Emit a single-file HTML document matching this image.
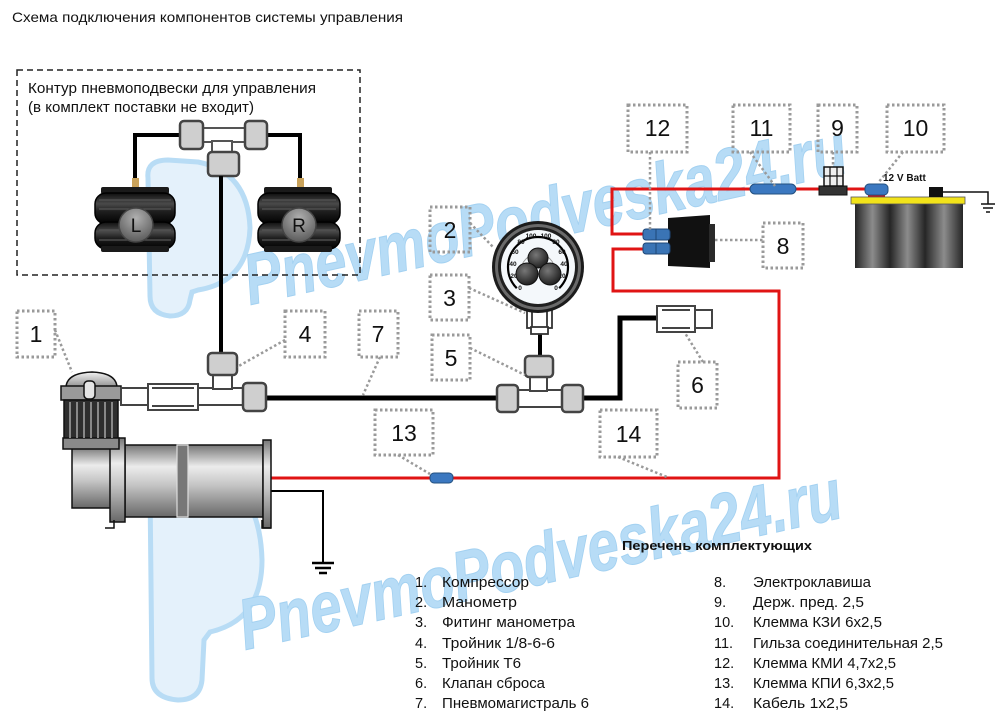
<!DOCTYPE html>
<html><head><meta charset="utf-8"><style>
html,body{margin:0;padding:0;background:#fff;}
svg{display:block;}
text{font-family:"Liberation Sans","Noto Sans CJK SC",sans-serif;}
</style></head><body>
<svg width="1000" height="712" viewBox="0 0 1000 712" xmlns="http://www.w3.org/2000/svg">
<defs>
<linearGradient id="tank" x1="0" y1="0" x2="0" y2="1">
<stop offset="0" stop-color="#767676"/><stop offset="0.3" stop-color="#ececec"/><stop offset="0.55" stop-color="#c6c6c6"/><stop offset="1" stop-color="#686868"/>
</linearGradient>
<linearGradient id="bag" x1="0" y1="0" x2="0" y2="1">
<stop offset="0" stop-color="#0e0e0e"/><stop offset="0.35" stop-color="#4a4a4a"/><stop offset="0.6" stop-color="#1e1e1e"/><stop offset="1" stop-color="#000"/>
</linearGradient>
<radialGradient id="lr" cx="0.5" cy="0.3" r="0.75"><stop offset="0" stop-color="#b0b0b0"/><stop offset="1" stop-color="#555"/></radialGradient>
<linearGradient id="cell" x1="0" y1="0" x2="1" y2="0"><stop offset="0" stop-color="#262626"/><stop offset="0.5" stop-color="#8c8c8c"/><stop offset="1" stop-color="#262626"/></linearGradient>
<linearGradient id="dome" x1="0" y1="0" x2="0" y2="1"><stop offset="0" stop-color="#f2f2f2"/><stop offset="1" stop-color="#8a8a8a"/></linearGradient>
<radialGradient id="knob" cx="0.4" cy="0.35" r="0.7"><stop offset="0" stop-color="#777"/><stop offset="1" stop-color="#1a1a1a"/></radialGradient>
</defs>

<!-- watermark logos -->
<g fill="#e4f1fb" stroke="#b8dcf5" stroke-width="5">
<path d="M148,178 Q146,160 168,160 L198,162 Q248,172 250,228 Q248,282 198,290 L192,292 L190,300 Q188,316 170,316 Q150,314 150,296 Z"/>
<path d="M150,488 Q148,468 172,468 L205,470 Q260,485 262,560 Q262,620 210,632 L204,640 L202,680 Q200,700 178,700 Q152,698 152,678 Z"/>
</g>
<g font-size="72" font-weight="bold" font-style="italic" fill="#b7dcf6" stroke="#a3d1f1" stroke-width="1">
<text x="250" y="305" transform="rotate(-12.5 250 305)" textLength="615" lengthAdjust="spacingAndGlyphs">PnevmoPodveska24.ru</text>
<text x="245" y="650" transform="rotate(-12.5 245 650)" textLength="615" lengthAdjust="spacingAndGlyphs">PnevmoPodveska24.ru</text>
</g>

<!-- title -->
<text x="12" y="22" font-size="14" fill="#111" textLength="391" lengthAdjust="spacingAndGlyphs">Схема подключения компонентов системы управления</text>

<!-- contour box -->
<rect x="17" y="70" width="343" height="205" fill="none" stroke="#222" stroke-width="1.5" stroke-dasharray="6 4"/>
<text x="28" y="93" font-size="15" fill="#111" textLength="288" lengthAdjust="spacingAndGlyphs">Контур пневмоподвески для управления</text>
<text x="28" y="112" font-size="15" fill="#111" textLength="226" lengthAdjust="spacingAndGlyphs">(в комплект поставки не входит)</text>

<!-- hoses to bags -->
<path d="M182,135 H135 V180 M265,135 H300 V180" fill="none" stroke="#000" stroke-width="4"/>
<rect x="132" y="178" width="7" height="12" fill="#c9a25a"/>
<rect x="297" y="178" width="7" height="12" fill="#c9a25a"/>

<!-- top tee -->
<rect x="200" y="128" width="48" height="14" fill="#fff" stroke="#555" stroke-width="2"/>
<rect x="212" y="141" width="20" height="13" fill="#fff" stroke="#555" stroke-width="2"/>
<rect x="180" y="121" width="23" height="28" rx="4" fill="#cfcfcf" stroke="#444" stroke-width="2.5"/>
<rect x="245" y="121" width="22" height="28" rx="4" fill="#cfcfcf" stroke="#444" stroke-width="2.5"/>
<rect x="208" y="152" width="31" height="24" rx="4" fill="#cfcfcf" stroke="#444" stroke-width="2.5"/>

<!-- air bags -->
<g>
<rect x="101" y="187" width="68" height="7" rx="2" fill="#1a1a1a"/>
<rect x="95" y="193" width="80" height="31" rx="11" fill="url(#bag)" stroke="#000" stroke-width="1.5"/>
<rect x="95" y="222" width="80" height="27" rx="11" fill="url(#bag)" stroke="#000" stroke-width="1.5"/>
<rect x="101" y="246" width="68" height="6" rx="2" fill="#1a1a1a"/>
<path d="M99,200 H171 M99,209 H171 M99,230 H171 M99,240 H171" stroke="#555" stroke-width="1.2"/>
<circle cx="136" cy="225" r="17" fill="url(#lr)" stroke="#444" stroke-width="1.5"/>
<text x="136" y="232" font-size="19" text-anchor="middle" fill="#111">L</text>
</g>
<g>
<rect x="264" y="187" width="68" height="7" rx="2" fill="#1a1a1a"/>
<rect x="258" y="193" width="82" height="31" rx="11" fill="url(#bag)" stroke="#000" stroke-width="1.5"/>
<rect x="258" y="222" width="82" height="27" rx="11" fill="url(#bag)" stroke="#000" stroke-width="1.5"/>
<rect x="264" y="246" width="68" height="6" rx="2" fill="#1a1a1a"/>
<path d="M262,200 H336 M262,209 H336 M262,230 H336 M262,240 H336" stroke="#555" stroke-width="1.2"/>
<circle cx="299" cy="225" r="17" fill="url(#lr)" stroke="#444" stroke-width="1.5"/>
<text x="299" y="232" font-size="19" text-anchor="middle" fill="#111">R</text>
</g>

<!-- vertical air line -->
<line x1="221" y1="176" x2="221" y2="354" stroke="#000" stroke-width="4"/>

<!-- red wires -->
<path d="M270,478 H779 V291 H613 V249 H645" fill="none" stroke="#e01414" stroke-width="3"/>
<path d="M645,234 H612 V189 H870" fill="none" stroke="#e01414" stroke-width="3"/>

<!-- black air lines -->
<line x1="265" y1="398" x2="498" y2="398" stroke="#000" stroke-width="5"/>
<path d="M582,398 H620 V318 H658" fill="none" stroke="#000" stroke-width="5"/>
<line x1="540" y1="332" x2="540" y2="357" stroke="#000" stroke-width="4"/>

<!-- ground compressor -->
<path d="M270,491 H323 V563" fill="none" stroke="#000" stroke-width="2"/>
<path d="M312,563 H334 M315,568 H331 M319,573 H327" stroke="#000" stroke-width="2.5"/>

<!-- compressor -->
<g stroke="#111" stroke-width="1.5">
<rect x="72" y="447" width="40" height="61" fill="url(#tank)"/>
<rect x="125" y="445" width="138" height="72" fill="url(#tank)"/>
<rect x="177" y="445" width="11" height="72" fill="#777" stroke="#ddd" stroke-width="1.2"/>
<rect x="110" y="438" width="15" height="84" fill="url(#tank)"/>
<rect x="263" y="440" width="8" height="88" fill="url(#tank)"/>
<path d="M66,388 Q66,373 92,372 Q117,373 117,388 Z" fill="url(#dome)"/>
<rect x="61" y="386" width="60" height="14" fill="#9a9a9a"/>
<rect x="84" y="381" width="11" height="18" rx="4" fill="#e4e4e4"/>
<rect x="64" y="400" width="54" height="40" fill="#2e2e2e"/>
<rect x="63" y="438" width="56" height="11" fill="#8a8a8a"/>
</g>
<path d="M70,402 V438 M77,402 V438 M84,402 V438 M91,402 V438 M98,402 V438 M105,402 V438 M112,402 V438" stroke="#888" stroke-width="2"/>
<path d="M105,528 H114 V520 M262,520 V528 H271" fill="none" stroke="#111" stroke-width="1.5"/>

<!-- compressor outlet & tee 4 -->
<g stroke="#444" stroke-width="2">
<rect x="121" y="388" width="124" height="17" fill="#fff"/>
<rect x="148" y="384" width="50" height="26" fill="#fff"/>
<line x1="152" y1="388" x2="194" y2="388"/><line x1="152" y1="406" x2="194" y2="406"/>
<rect x="213" y="374" width="19" height="15" fill="#fff"/>
</g>
<rect x="243" y="383" width="23" height="28" rx="4" fill="#cfcfcf" stroke="#444" stroke-width="2.5"/>
<rect x="208" y="353" width="29" height="22" rx="4" fill="#cfcfcf" stroke="#444" stroke-width="2.5"/>

<!-- tee 5 -->
<g stroke="#444" stroke-width="2">
<rect x="516" y="390" width="48" height="17" fill="#fff"/>
<rect x="530" y="375" width="17" height="16" fill="#fff"/>
</g>
<rect x="497" y="385" width="21" height="27" rx="4" fill="#cfcfcf" stroke="#444" stroke-width="2.5"/>
<rect x="562" y="385" width="21" height="27" rx="4" fill="#cfcfcf" stroke="#444" stroke-width="2.5"/>
<rect x="525" y="356" width="28" height="21" rx="4" fill="#cfcfcf" stroke="#444" stroke-width="2.5"/>

<!-- gauge fitting -->
<g stroke="#333" stroke-width="1.8" fill="#fff">
<rect x="527" y="310" width="25" height="18"/>
<line x1="532" y1="310" x2="532" y2="328"/><line x1="547" y1="310" x2="547" y2="328"/>
<rect x="531" y="327" width="17" height="7"/>
</g>

<!-- gauge -->
<circle cx="538" cy="267" r="46" fill="#1c1c1c"/>
<circle cx="538" cy="267" r="43" fill="#6a6a6a"/>
<circle cx="538" cy="267" r="40" fill="#202020"/>
<circle cx="538" cy="267" r="37" fill="#f4f8fb"/>
<path d="M516.8,288.2 A30,30 0 1 1 559.2,288.2" fill="none" stroke="#000" stroke-width="2.2"/>
<path d="M526,283 A17,17 0 1 1 550,283" fill="none" stroke="#999" stroke-width="1"/>
<g font-size="6.5" font-weight="bold" fill="#111" text-anchor="middle">
<text x="520" y="290">0</text><text x="514" y="278">20</text><text x="513" y="266">40</text><text x="515" y="254">60</text><text x="521" y="244">80</text><text x="531" y="238">100</text>
<text x="556" y="290">0</text><text x="562" y="278">20</text><text x="564" y="266">40</text><text x="562" y="254">60</text><text x="556" y="244">80</text><text x="546" y="238">100</text>
</g>
<circle cx="538" cy="258" r="10" fill="url(#knob)" stroke="#111"/>
<circle cx="527" cy="274" r="11" fill="url(#knob)" stroke="#111"/>
<circle cx="550" cy="274" r="11" fill="url(#knob)" stroke="#111"/>

<!-- valve 6 -->
<g stroke="#444" stroke-width="2" fill="#fff">
<rect x="694" y="310" width="18" height="18"/>
<rect x="657" y="306" width="38" height="26"/>
<line x1="662" y1="310" x2="690" y2="310"/><line x1="662" y1="328" x2="690" y2="328"/>
</g>

<!-- switch 8 -->
<path d="M668,218 L710,215 L710,268 L668,266 Z" fill="#111"/>
<rect x="709" y="224" width="6" height="38" fill="#2a2a2a"/>
<rect x="643" y="229" width="27" height="11" rx="3" fill="#3a74b5" stroke="#1f4777"/>
<rect x="643" y="243" width="27" height="11" rx="3" fill="#3a74b5" stroke="#1f4777"/>
<line x1="656" y1="229" x2="656" y2="240" stroke="#1f4777"/><line x1="656" y1="243" x2="656" y2="254" stroke="#1f4777"/>

<!-- sleeve 11, clip 13 -->
<rect x="750" y="184" width="46" height="10" rx="5" fill="#3b78c0" stroke="#23507f"/>
<rect x="430" y="473" width="23" height="10" rx="4" fill="#3b78c0" stroke="#23507f"/>

<!-- fuse holder 9 -->
<rect x="819" y="186" width="28" height="9" fill="#333" stroke="#111"/>
<rect x="824" y="167" width="19" height="19" fill="#eee" stroke="#111" stroke-width="1.5"/>
<path d="M830,167 V186 M837,167 V186 M824,176 H843" stroke="#111" stroke-width="1.2"/>

<!-- battery -->
<rect x="868" y="193" width="17" height="6" fill="#d61010"/>
<rect x="865" y="184" width="23" height="11" rx="4" fill="#3b78c0" stroke="#23507f"/>
<text x="883" y="181" font-size="10" font-weight="bold" fill="#111">12 V Batt</text>
<rect x="855" y="204" width="35" height="64" fill="url(#cell)"/>
<rect x="890" y="204" width="35" height="64" fill="url(#cell)"/>
<rect x="925" y="204" width="38" height="64" fill="url(#cell)"/>
<rect x="851" y="197" width="114" height="7" fill="#f2e31a" stroke="#555" stroke-width="0.8"/>
<rect x="929" y="187" width="14" height="10" fill="#111"/>
<path d="M943,192 H988 V204" fill="none" stroke="#111" stroke-width="1.5"/>
<path d="M981,204 H995 M983,208 H993 M986,212 H990" stroke="#111" stroke-width="1.5"/>

<!-- label boxes -->
<g fill="none" stroke="#9a9a9a" stroke-width="3" stroke-dasharray="2.5 2.5">
<rect x="17" y="311" width="38" height="46"/>
<rect x="285" y="311" width="40" height="46"/>
<rect x="359" y="311" width="39" height="46"/>
<rect x="375" y="410" width="58" height="45"/>
<rect x="430" y="207" width="40" height="45"/>
<rect x="430" y="275" width="39" height="45"/>
<rect x="432" y="335" width="38" height="45"/>
<rect x="678" y="362" width="39" height="46"/>
<rect x="600" y="410" width="57" height="47"/>
<rect x="628" y="105" width="59" height="47"/>
<rect x="733" y="105" width="57" height="47"/>
<rect x="818" y="105" width="39" height="47"/>
<rect x="887" y="105" width="57" height="47"/>
<rect x="763" y="223" width="40" height="45"/>
</g>
<g fill="none" stroke="#9a9a9a" stroke-width="2.5" stroke-dasharray="2.5 2.5">
<path d="M55,330 L72,372"/>
<path d="M285,340 L237,367"/>
<path d="M380,357 L363,395"/>
<path d="M398,455 L430,474"/>
<path d="M470,223 L493,247"/>
<path d="M469,288 L525,313"/>
<path d="M470,348 L525,375"/>
<path d="M703,362 L685,333"/>
<path d="M618,457 L667,477"/>
<path d="M650,152 L650,231"/>
<path d="M750,152 L775,186"/>
<path d="M833,152 L833,167"/>
<path d="M903,152 L878,183"/>
<path d="M715,240 L763,240"/>
</g>
<g font-size="23" fill="#111" text-anchor="middle">
<text x="36" y="342">1</text>
<text x="305" y="342">4</text>
<text x="378" y="342">7</text>
<text x="404" y="441">13</text>
<text x="450" y="238">2</text>
<text x="449.5" y="306">3</text>
<text x="451" y="366">5</text>
<text x="697.5" y="393">6</text>
<text x="628.5" y="442">14</text>
<text x="657.5" y="136">12</text>
<text x="761.5" y="136">11</text>
<text x="837.5" y="136">9</text>
<text x="915.5" y="136">10</text>
<text x="783" y="254">8</text>
</g>

<!-- parts list -->
<text x="622" y="550" font-size="13" font-weight="bold" fill="#111" textLength="190" lengthAdjust="spacingAndGlyphs">Перечень комплектующих</text>
<g font-size="14.5" fill="#111">
<text x="415" y="587">1.</text><text x="442" y="587" textLength="87" lengthAdjust="spacingAndGlyphs">Компрессор</text>
<text x="415" y="607">2.</text><text x="442" y="607" textLength="75" lengthAdjust="spacingAndGlyphs">Манометр</text>
<text x="415" y="627">3.</text><text x="442" y="627" textLength="133" lengthAdjust="spacingAndGlyphs">Фитинг манометра</text>
<text x="415" y="648">4.</text><text x="442" y="648" textLength="113" lengthAdjust="spacingAndGlyphs">Тройник 1/8-6-6</text>
<text x="415" y="668">5.</text><text x="442" y="668" textLength="79" lengthAdjust="spacingAndGlyphs">Тройник Т6</text>
<text x="415" y="688">6.</text><text x="442" y="688" textLength="103" lengthAdjust="spacingAndGlyphs">Клапан сброса</text>
<text x="415" y="708">7.</text><text x="442" y="708" textLength="147" lengthAdjust="spacingAndGlyphs">Пневмомагистраль 6</text>
<text x="714" y="587">8.</text><text x="753" y="587" textLength="118" lengthAdjust="spacingAndGlyphs">Электроклавиша</text>
<text x="714" y="607">9.</text><text x="753" y="607" textLength="111" lengthAdjust="spacingAndGlyphs">Держ. пред. 2,5</text>
<text x="714" y="627">10.</text><text x="753" y="627" textLength="129" lengthAdjust="spacingAndGlyphs">Клемма КЗИ 6х2,5</text>
<text x="714" y="648">11.</text><text x="753" y="648" textLength="190" lengthAdjust="spacingAndGlyphs">Гильза соединительная 2,5</text>
<text x="714" y="668">12.</text><text x="753" y="668" textLength="143" lengthAdjust="spacingAndGlyphs">Клемма КМИ 4,7х2,5</text>
<text x="714" y="688">13.</text><text x="753" y="688" textLength="141" lengthAdjust="spacingAndGlyphs">Клемма КПИ 6,3х2,5</text>
<text x="714" y="708">14.</text><text x="753" y="708" textLength="95" lengthAdjust="spacingAndGlyphs">Кабель 1х2,5</text>
</g>
</svg>
</body></html>
